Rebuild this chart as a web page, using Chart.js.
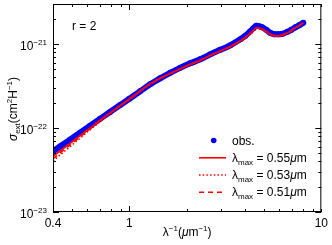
<!DOCTYPE html>
<html>
<head>
<meta charset="utf-8">
<script src="https://cdn.jsdelivr.net/npm/chart.js@4.4.1/dist/chart.umd.min.js"></script>
<style>
    html, body { margin: 0; padding: 0; background: #fff; }
    #wrap { width: 332px; height: 245px; }
</style>
</head>
<body>
<div id="wrap"><canvas id="my-chart" width="332" height="245"></canvas></div>
<script>
// inverse wavelength (um^-1) of the observed curve and of the models
const waveInv = [0.400, 0.435, 0.491, 0.553, 0.624, 0.703, 0.793, 0.895, 1.00, 1.137, 1.283, 1.446,
    1.631, 1.839, 2.074, 2.339, 2.637, 2.973, 3.353, 3.781, 4.015, 4.263, 4.419, 4.581,
    4.750, 4.924, 5.167, 5.420, 5.687, 5.967, 6.261, 6.650, 6.976, 7.319, 7.680, 8.058];

// observed extinction cross section (cm^2 H^-1)
const obsSigma = [5.28e-23, 6.02e-23, 7.28e-23, 8.79e-23, 1.062e-22, 1.287e-22, 1.555e-22, 1.878e-22,
    2.227e-22, 2.735e-22, 3.313e-22, 3.906e-22, 4.541e-22, 5.209e-22, 5.892e-22, 6.575e-22,
    7.541e-22, 8.531e-22, 9.65e-22, 1.138e-21, 1.252e-21, 1.417e-21, 1.538e-21, 1.647e-21,
    1.625e-21, 1.581e-21, 1.476e-21, 1.360e-21, 1.312e-21, 1.305e-21, 1.323e-21, 1.397e-21,
    1.476e-21, 1.581e-21, 1.679e-21, 1.788e-21];

// models, lambda_max = 0.55, 0.53, 0.51 um
const model055 = [4.60e-23, 5.32e-23, 6.56e-23, 8.10e-23, 1.000e-22, 1.235e-22, 1.513e-22, 1.852e-22,
    2.227e-22, 2.758e-22, 3.359e-22, 3.906e-22, 4.455e-22, 5.068e-22, 5.733e-22, 6.398e-22,
    7.337e-22, 8.255e-22, 9.312e-22, 1.092e-21, 1.192e-21, 1.341e-21, 1.448e-21, 1.559e-21,
    1.547e-21, 1.505e-21, 1.409e-21, 1.305e-21, 1.259e-21, 1.252e-21, 1.280e-21, 1.359e-21,
    1.444e-21, 1.560e-21, 1.665e-21, 1.788e-21];
const model053 = [4.05e-23, 4.77e-23, 6.01e-23, 7.56e-23, 9.52e-23, 1.185e-22, 1.472e-22, 1.812e-22,
    2.167e-22, 2.713e-22, 3.313e-22, 3.874e-22, 4.443e-22, 5.068e-22, 5.733e-22, 6.398e-22,
    7.337e-22, 8.255e-22, 9.312e-22, 1.092e-21, 1.190e-21, 1.338e-21, 1.445e-21, 1.555e-21,
    1.545e-21, 1.503e-21, 1.409e-21, 1.305e-21, 1.259e-21, 1.252e-21, 1.280e-21, 1.359e-21,
    1.444e-21, 1.560e-21, 1.665e-21, 1.788e-21];
const model051 = [4.30e-23, 5.04e-23, 6.30e-23, 7.83e-23, 9.78e-23, 1.218e-22, 1.501e-22, 1.837e-22,
    2.197e-22, 2.735e-22, 3.331e-22, 3.906e-22, 4.455e-22, 5.068e-22, 5.733e-22, 6.398e-22,
    7.337e-22, 8.255e-22, 9.312e-22, 1.092e-21, 1.191e-21, 1.340e-21, 1.447e-21, 1.557e-21,
    1.546e-21, 1.504e-21, 1.409e-21, 1.305e-21, 1.259e-21, 1.252e-21, 1.280e-21, 1.359e-21,
    1.444e-21, 1.560e-21, 1.665e-21, 1.788e-21];
const lambdaMax = ["0.55", "0.53", "0.51"];

const xTicks = [0.4, 0.5, 0.6, 0.7, 0.8, 0.9, 1, 2, 3, 4, 5, 6, 7, 8, 9, 10];
const xTickLabels = [0.4, 1, 10];
const yTicks = [1e-23, 2e-23, 3e-23, 4e-23, 5e-23, 6e-23, 7e-23, 8e-23, 9e-23,
    1e-22, 2e-22, 3e-22, 4e-22, 5e-22, 6e-22, 7e-22, 8e-22, 9e-22, 1e-21, 2e-21];
const yTickLabels = [1e-23, 1e-22, 1e-21];

const FONT = '"Liberation Sans", Arial, sans-serif';
const toPoints = (ys) => waveInv.map((x, i) => ({ x: x, y: ys[i] }));

const fontOf = (p) => (p.italic ? "italic " : "") + (p.size || 12) + "px " + FONT;

function drawRich(ctx, parts, x, y, align) {
    let w = 0;
    parts.forEach((p) => { ctx.font = fontOf(p); w += ctx.measureText(p.t).width; });
    let cx = align === "center" ? x - w / 2 : align === "right" ? x - w : x;
    parts.forEach((p) => {
        ctx.font = fontOf(p);
        ctx.fillText(p.t, cx, y + (p.dy || 0));
        cx += ctx.measureText(p.t).width;
    });
}

const sup = (t) => ({ t: t, size: 8, dy: -5 });
const sub = (t) => ({ t: t, size: 8, dy: 3 });

const decor = {
    id: "decor",
    afterDatasetsDraw(chart) {
        const { ctx, chartArea: a, scales } = chart;
        const x = scales.x, y = scales.y;
        ctx.save();
        ctx.strokeStyle = "#000";
        ctx.lineWidth = 1;
        ctx.setLineDash([]);
        ctx.strokeRect(a.left + 0.5, a.top + 0.5, a.right - a.left - 1, a.bottom - a.top - 1);

        // inward ticks on all four sides
        ctx.beginPath();
        xTicks.forEach((v) => {
            const px = Math.round(x.getPixelForValue(v)) + 0.5;
            const len = v === 1 ? 6 : 3;
            ctx.moveTo(px, a.bottom); ctx.lineTo(px, a.bottom - len);
            ctx.moveTo(px, a.top); ctx.lineTo(px, a.top + len);
        });
        yTicks.forEach((v) => {
            const py = Math.round(y.getPixelForValue(v)) + 0.5;
            const len = yTickLabels.includes(v) ? 6 : 3;
            ctx.moveTo(a.left, py); ctx.lineTo(a.left + len, py);
            ctx.moveTo(a.right, py); ctx.lineTo(a.right - len, py);
        });
        ctx.stroke();

        ctx.fillStyle = "#000";
        ctx.textBaseline = "alphabetic";

        // y tick labels 10^n
        yTickLabels.forEach((v) => {
            const py = y.getPixelForValue(v);
            const e = Math.round(Math.log10(v));
            drawRich(ctx, [{ t: "10" }, sup("\u2212" + Math.abs(e))], 47, py + 5.5, "right");
        });

        // axis titles
        drawRich(ctx, [{ t: "\u03bb" }, sup("\u22121"), { t: "(" }, { t: "\u03bc", italic: true },
            { t: "m" }, sup("\u22121"), { t: ")" }], (a.left + a.right) / 2, 236, "center");
        ctx.save();
        ctx.translate(17, (a.top + a.bottom) / 2 + 1);
        ctx.rotate(-Math.PI / 2);
        drawRich(ctx, [{ t: "\u03c3", italic: true }, sub("ext"), { t: "(cm" }, sup("2"), { t: "H" },
            sup("\u22121"), { t: ")" }], 0, 0, "center");
        ctx.restore();

        drawRich(ctx, [{ t: "r = 2" }], 72, 30, "left");

        // legend
        ctx.fillStyle = "#0000ff";
        ctx.beginPath();
        ctx.arc(213.7, 140.5, 2.8, 0, Math.PI * 2);
        ctx.fill();
        ctx.fillStyle = "#000";
        drawRich(ctx, [{ t: "obs." }], 232, 145, "left");
        const dashes = [[], [1.5, 2.2], [5, 4]];
        const rowsY = [157.8, 175, 192.3];
        lambdaMax.forEach((lm, i) => {
            ctx.strokeStyle = "#ff0000";
            ctx.lineWidth = 1.6;
            ctx.setLineDash(dashes[i]);
            ctx.beginPath();
            ctx.moveTo(199, rowsY[i]); ctx.lineTo(226, rowsY[i]);
            ctx.stroke();
            ctx.setLineDash([]);
            drawRich(ctx, [{ t: "\u03bb" }, sub("max"), { t: " = " + lm }, { t: "\u03bc", italic: true },
                { t: "m" }], 232, rowsY[i] + 4, "left");
        });
        ctx.restore();
    },
};

const ctx = document.getElementById("my-chart").getContext("2d");
const chart = new Chart(ctx, {
    type: "line",
    data: {
        datasets: [
            {
                label: "obs.",
                data: toPoints(obsSigma),
                borderColor: "#0000ff",
                backgroundColor: "#0000ff",
                borderWidth: 6,
                pointRadius: 3,
                pointBorderWidth: 0,
                cubicInterpolationMode: "monotone",
                order: 4,
            },
            {
                label: "lambda_max = 0.51",
                data: toPoints(model051),
                borderColor: "#ff0000",
                borderWidth: 1.6,
                borderDash: [5, 4],
                pointRadius: 0,
                cubicInterpolationMode: "monotone",
                order: 3,
            },
            {
                label: "lambda_max = 0.53",
                data: toPoints(model053),
                borderColor: "#ff0000",
                borderWidth: 1.6,
                borderDash: [1.5, 2.2],
                pointRadius: 0,
                cubicInterpolationMode: "monotone",
                order: 2,
            },
            {
                label: "lambda_max = 0.55",
                data: toPoints(model055),
                borderColor: "#ff0000",
                borderWidth: 1.8,
                pointRadius: 0,
                cubicInterpolationMode: "monotone",
                order: 1,
            },
        ],
    },
    options: {
        responsive: false,
        animation: false,
        devicePixelRatio: 1,
        layout: { padding: { left: 0, right: 10, top: 4, bottom: 0 } },
        plugins: { legend: { display: false }, tooltip: { enabled: false } },
        scales: {
            x: {
                type: "logarithmic",
                min: 0.4,
                max: 10,
                grid: { display: false, drawTicks: false },
                border: { display: false },
                afterBuildTicks: (s) => { s.ticks = xTicks.map((v) => ({ value: v })); },
                afterFit: (s) => { s.height = 33; },
                ticks: {
                    autoSkip: false,
                    maxRotation: 0,
                    padding: 4,
                    color: "#000",
                    font: { family: FONT, size: 12 },
                    callback: (v) => (xTickLabels.includes(v) ? String(v) : ""),
                },
            },
            y: {
                type: "logarithmic",
                min: 1e-23,
                max: 3e-21,
                grid: { display: false, drawTicks: false },
                border: { display: false },
                afterFit: (s) => { s.width = 53; },
                ticks: { display: false },
            },
        },
    },
    plugins: [decor],
});
</script>
</body>
</html>
